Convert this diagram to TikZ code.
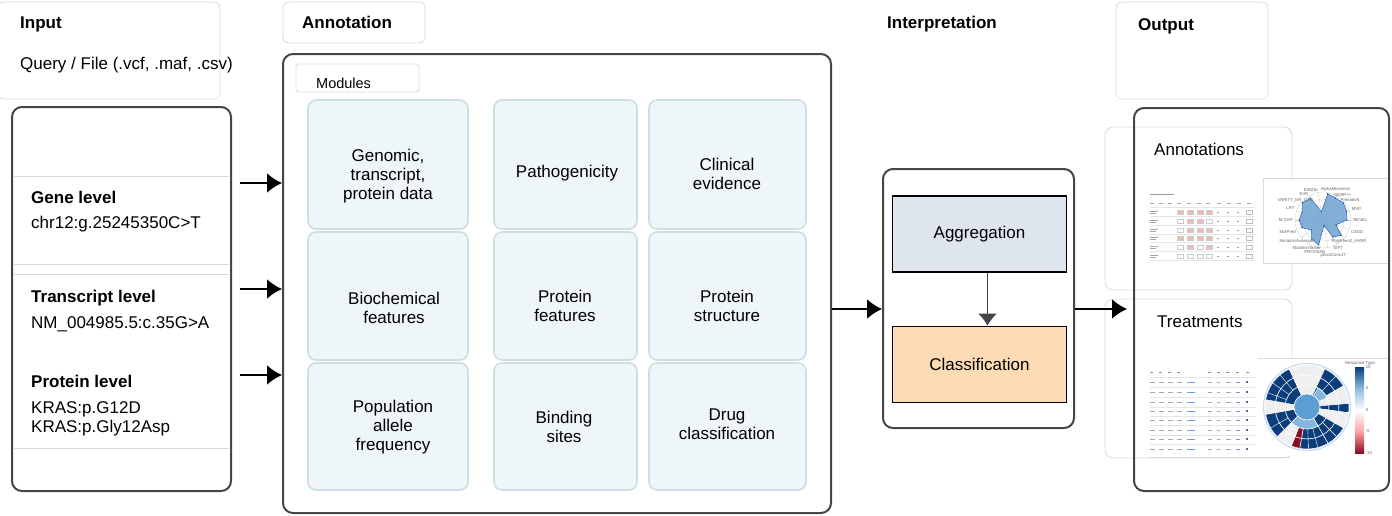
\documentclass[tikz,border=0pt]{standalone}
\usepackage{fontspec}
\setmainfont{Liberation Sans}
\usepackage{tikz}
\usetikzlibrary{arrows.meta,positioning}
\definecolor{boxgray}{HTML}{D9D9D9}
\definecolor{panelgray}{HTML}{454545}
\definecolor{modfill}{HTML}{EEF6FA}
\definecolor{modline}{HTML}{CDDFE2}
\definecolor{aggfill}{HTML}{DEE5EE}
\definecolor{clsfill}{HTML}{FDDCB5}
\definecolor{navy}{HTML}{0B3D7A}
\definecolor{lgray}{HTML}{EFEFEF}
\definecolor{dred}{HTML}{8C0A22}
\definecolor{skyblue}{HTML}{5B9FD4}
\definecolor{radfill}{HTML}{6FA3D2}
\definecolor{raddark}{HTML}{2D6BAA}
\definecolor{cellpink}{HTML}{F2B8B5}
\definecolor{linkblue}{HTML}{6A9BE0}
\tikzstyle{hdrbox} = [draw=boxgray, line width=0.8pt, rounded corners=6pt]
\tikzstyle{panel} = [draw=panelgray, line width=2pt, rounded corners=10pt, inner sep=0pt]
\tikzstyle{module} = [draw=modline, fill=modfill, line width=1.6pt, rounded corners=8pt, inner sep=0pt]
\tikzstyle{modtext} = [align=center, inner sep=0pt]
\tikzstyle{stage} = [draw=black, line width=1.6pt, minimum width=174pt, minimum height=76pt]
\tikzstyle{txt} = [anchor=base west, inner sep=0pt]
\tikzstyle{heading} = [txt, font=\fontsize{17}{19}\selectfont\bfseries]
\tikzstyle{flow} = [-{Latex[length=15pt,width=20pt]}, line width=2pt]
\tikzstyle{radlab} = [inner sep=0.6pt, font=\fontsize{4.3}{5}\selectfont, text=black!60]

\begin{document}
\begin{tikzpicture}[x=1pt, y=-1pt, font=\fontsize{17}{19}\selectfont]
    \useasboundingbox (0,0) rectangle (1392,515);
    % headers
    \node [hdrbox, minimum width=222pt, minimum height=97pt] (inhdr) at (109,50.5) {};
    \node [hdrbox, minimum width=142pt, minimum height=41pt] (annhdr) at (354,22.5) {};
    \node [hdrbox, minimum width=152pt, minimum height=97pt] (outhdr) at (1192,50.5) {};
    \node [heading] (intitle) at (20,28) {Input};
    \node [txt] (query) at (20,69) {Query / File (.vcf, .maf, .csv)};
    \node [heading] (anntitle) at (302,28) {Annotation};
    \node [heading] (inttitle) at (887,28) {Interpretation};
    \node [heading] (outtitle) at (1138,30) {Output};

    % input levels
    \node [panel, minimum width=219pt, minimum height=384pt] (inpanel) at (121.5,299) {};
    \foreach \y in {176,264,274,448}
        \draw [boxgray, line width=0.8pt] (14,\y) -- (229,\y);
    \node [heading] (genehd) at (31,203) {Gene level};
    \node [txt] (genetxt) at (31,228) {chr12:g.25245350C>T};
    \node [heading] (trhd) at (31,302) {Transcript level};
    \node [txt] (trtxt) at (31,328) {NM\_004985.5:c.35G>A};
    \node [heading] (prhd) at (31,387) {Protein level};
    \node [txt] (prtxt) at (31,413) {KRAS:p.G12D};
    \node [txt] (prtxtb) at (31,432) {KRAS:p.Gly12Asp};

    % annotation modules
    \node [panel, minimum width=548pt, minimum height=459pt] (annpanel) at (557,283.5) {};
    \node [hdrbox, rounded corners=3pt, minimum width=123pt, minimum height=28pt] (modhdr) at (357.5,78) {};
    \node [txt, font=\fontsize{14.5}{16}\selectfont] (modtitle) at (316,88) {Modules};
    \node [module, minimum width=160pt, minimum height=129pt] (genomic) at (388,164.5) {};
    \node [module, minimum width=143pt, minimum height=129pt] (patho) at (565.5,164.5) {};
    \node [module, minimum width=157pt, minimum height=129pt] (clinical) at (727.5,164.5) {};
    \node [module, minimum width=160pt, minimum height=128pt] (biochem) at (388,296) {};
    \node [module, minimum width=143pt, minimum height=128pt] (protfeat) at (565.5,296) {};
    \node [module, minimum width=157pt, minimum height=128pt] (protstruct) at (727.5,296) {};
    \node [module, minimum width=160pt, minimum height=127pt] (popfreq) at (388,426.5) {};
    \node [module, minimum width=143pt, minimum height=127pt] (binding) at (565.5,426.5) {};
    \node [module, minimum width=157pt, minimum height=127pt] (drugcls) at (727.5,426.5) {};
    \node [modtext] (genomic-t) at (388,176) {Genomic,\\transcript,\\protein data};
    \node [modtext] (patho-t) at (567,173) {Pathogenicity};
    \node [modtext] (clinical-t) at (727,173.5) {Clinical\\evidence};
    \node [modtext] (biochem-t) at (394,307.5) {Biochemical\\features};
    \node [modtext] (protfeat-t) at (565,305.5) {Protein\\features};
    \node [modtext] (protstruct-t) at (727,305.5) {Protein\\structure};
    \node [modtext] (popfreq-t) at (393,427) {Population\\allele\\frequency};
    \node [modtext] (binding-t) at (564,426.5) {Binding\\sites};
    \node [modtext] (drugcls-t) at (727,424.5) {Drug\\classification};

    % interpretation
    \node [panel, minimum width=191pt, minimum height=259pt] (intpanel) at (978.5,298.5) {};
    \node [stage, fill=aggfill] (agg) at (979.5,234) {Aggregation};
    \node [stage, fill=clsfill] (cls) at (979.5,364.5) {Classification};
    \draw [-{Latex[length=12pt,width=19pt]}, line width=1.6pt, panelgray] ([xshift=8pt]agg.south) -- ([xshift=8pt]cls.north);

    % output
    \node [hdrbox, rounded corners=8pt, minimum width=187pt, minimum height=163pt] (annbox) at (1198.5,208.5) {};
    \node [txt] (annout) at (1154,155) {Annotations};
    \draw [fill=white, draw=boxgray, line width=0.6pt] (1263,178) rectangle (1389,263);
    % annotation table
    \begin{scope}[shift={(1150,190)}]
        \fill [black!40] (0,4) rectangle (24,5.2);
        \foreach \x in {0,9,18,27,37,47,56,67,77,87,97}
            \fill [black!35] (\x,12.5) rectangle ++(4,1);
        \foreach \y in {17,26,35,44,52,61,70}
            \draw [black!10, line width=0.3pt] (0,\y) -- (105,\y);
        \foreach \y/\p/\q/\r/\s in {22/cellpink/cellpink/cellpink/cellpink, 31/white/cellpink/cellpink/white, 40/white/cellpink/cellpink/cellpink, 48/cellpink/cellpink/cellpink/cellpink, 57/white/cellpink/white/cellpink, 66/white/white/white/white} {
            \fill [black!35] (0,\y-1.5) rectangle ++(8,0.9);
            \fill [black!35] (0,\y+0.5) rectangle ++(6,0.9);
            \filldraw [fill=\p, draw=black!20, line width=0.2pt] (27,\y-2) rectangle ++(6,4);
            \filldraw [fill=\q, draw=black!20, line width=0.2pt] (37,\y-2) rectangle ++(6,4);
            \filldraw [fill=\r, draw=black!20, line width=0.2pt] (47,\y-2) rectangle ++(6,4);
            \filldraw [fill=\s, draw=black!20, line width=0.2pt] (56,\y-2) rectangle ++(6,4);
            \fill [black!40] (67,\y-0.5) rectangle ++(2,1);
            \fill [black!40] (77,\y-0.5) rectangle ++(2,1);
            \fill [black!40] (87,\y-0.5) rectangle ++(2,1);
            \draw [black!25, line width=0.2pt] (96,\y-2) rectangle ++(6,4);
        }
    \end{scope}
    % radar chart
    \begin{scope}[shift={(1323,220)}, yscale=-1]
        \foreach \r in {7,14,21,28}
            \draw [black!20, line width=0.3pt] (0,0) circle [radius=\r];
        \foreach \ang in {0,20,...,340}
            \draw [black!20, line width=0.3pt] (0,0) -- (\ang:28);
        \draw [raddark, fill=radfill, fill opacity=0.85, line width=0.5pt]
            (100:8.4) -- (80:26.6) -- (60:25.2) -- (40:26.6) -- (20:25.2) -- (0:23.8)
            -- (-20:14) -- (-40:23.8) -- (-60:19.6) -- (-80:5.6) -- (-100:25.2)
            -- (-120:22.4) -- (-140:15.4) -- (-160:22.4) -- (180:23.8) -- (160:22.4)
            -- (140:26.6) -- (120:25.2) -- cycle;
        \foreach \ang/\r in {100/8.4,80/26.6,60/25.2,40/26.6,20/25.2,0/23.8,-20/14,-40/23.8,-60/19.6,-80/5.6,-100/25.2,-120/22.4,-140/15.4,-160/22.4,180/23.8,160/22.4,140/26.6,120/25.2}
            \fill [raddark] (\ang:\r) circle [radius=0.8];
        \foreach \ang/\rad/\lab [evaluate=\ang as \anc using int(\ang+180)] in {112/30/ESM1b, 68/30/AlphaMissense, 52/29/GERP++, 36/29.5/PrimateAI, 18/29.5/MVP, 0/29.5/REVEL, -20/29.5/CADD, -40/29.5/PolyPhen2\_HVAR, -62/29.5/SIFT, -74/34/phastCons17, -104/31/PROVEAN, -120/30/MutationTaster, -142/29.5/MutationAssessor, -162/29.5/MutPred, 180/29.5/M-CAP, 160/29.5/LRT, 144/29.5/VARITY\_ER\_LOO, 126/29.5/EVE}
            \node [radlab, anchor=\anc] (rl\anc) at (\ang:\rad) {\lab};
    \end{scope}

    \node [hdrbox, rounded corners=8pt, minimum width=187pt, minimum height=159pt] (trbox) at (1198.5,378.5) {};
    \node [txt] (trout) at (1157,327) {Treatments};
    \fill [white] (1148,366) rectangle (1258,457);
    \fill [white] (1258,358) rectangle (1390,456);
    \draw [boxgray, line width=0.6pt] (1258,358) -- (1390,358);
    \draw [boxgray, line width=0.6pt] (1148,457) -- (1290,457);
    % treatment table
    \begin{scope}[shift={(1150,367)}]
        \foreach \x in {0,9,18,27,58,67,76,86,96}
            \fill [black!45] (\x,5) rectangle ++(3,1);
        \foreach \y in {10,20,30,40,49,58,68,77}
            \draw [black!10, line width=0.3pt] (0,\y) -- (105,\y);
        \foreach \y in {15,25,35,44,53,63,72,82} {
            \fill [black!35] (0,\y-0.5) rectangle ++(5,1);
            \fill [black!35] (9,\y-0.5) rectangle ++(5,1);
            \fill [black!35] (18,\y-0.5) rectangle ++(5,1);
            \fill [black!35] (27,\y-0.5) rectangle ++(5,1);
            \fill [linkblue] (37,\y-0.5) rectangle ++(8,1);
            \fill [black!35] (58,\y-0.5) rectangle ++(4,1);
            \fill [black!35] (67,\y-0.5) rectangle ++(3,1);
            \fill [black!35] (76,\y-0.5) rectangle ++(5,1);
            \fill [linkblue] (86,\y-0.5) rectangle ++(4,1);
            \fill [black!60] (96,\y-1.5) rectangle ++(1.5,2);
        }
    \end{scope}
    % sunburst
    \begin{scope}[shift={(1307,407)}, yscale=-1]
        \foreach \a/\b/\c in {115/175/navy, 65/115/lgray, 30/65/navy, 5/30/lgray, -8/5/navy, -30/-8/lgray, -60/-30/navy, -100/-60/navy, -112/-100/dred, -135/-112/lgray, -170/-135/navy, -190/-170/lgray}
            \foreach \ri/\ro in {13/22,22/32,32/42}
                \filldraw [fill=\c, draw=white, line width=0.5pt] (\a:\ri) arc [start angle=\a, end angle=\b, radius=\ri] -- (\b:\ro) arc [start angle=\b, end angle=\a, radius=\ro] -- cycle;
        \foreach \ang in {130,145,160,47,-45,-75,-88,-150}
            \draw [white, line width=0.4pt] (\ang:22) -- (\ang:42);
        \foreach \a/\b in {-135/-60, 25/60}
            \filldraw [fill=skyblue!75, draw=white, line width=0.5pt] (\a:13) arc [start angle=\a, end angle=\b, radius=13] -- (\b:22) arc [start angle=\b, end angle=\a, radius=22] -- cycle;
        \filldraw [fill=skyblue, draw=white, line width=0.5pt] (0,0) circle [radius=13];
        \draw [skyblue!35, line width=1.2pt] (0,0) circle [radius=43.5];
    \end{scope}
    % colour bar
    \shade [top color=navy, bottom color=white, middle color=skyblue!70] (1355,367) rectangle (1364,410);
    \shade [top color=white, bottom color=dred, middle color=red!35] (1355,410) rectangle (1364,453);
    \node [radlab, anchor=south] (rtype) at (1360,366) {Response Type};
    \foreach \y/\v in {367/10, 388.5/5, 410/0, 431.5/-5, 453/-10}
        \node [radlab, anchor=west] (cb\y) at (1365,\y) {\v};

    \node [panel, minimum width=255pt, minimum height=383pt] (outpanel) at (1261.5,299.5) {};

    % connectors
    \coordinate (genearr) at (0,183);
    \coordinate (trarr) at (0,289);
    \coordinate (prarr) at (0,375);
    \coordinate (midarr) at (0,309);
    \draw [flow, shorten <=8pt] (inpanel.east |- genearr) -- (annpanel.west |- genearr);
    \draw [flow, shorten <=8pt] (inpanel.east |- trarr) -- (annpanel.west |- trarr);
    \draw [flow, shorten <=8pt] (inpanel.east |- prarr) -- (annpanel.west |- prarr);
    \draw [flow] (annpanel.east |- midarr) -- (intpanel.west |- midarr);
    \draw [flow, shorten >=6pt] (intpanel.east |- midarr) -- (outpanel.west |- midarr);
\end{tikzpicture}
\end{document}
